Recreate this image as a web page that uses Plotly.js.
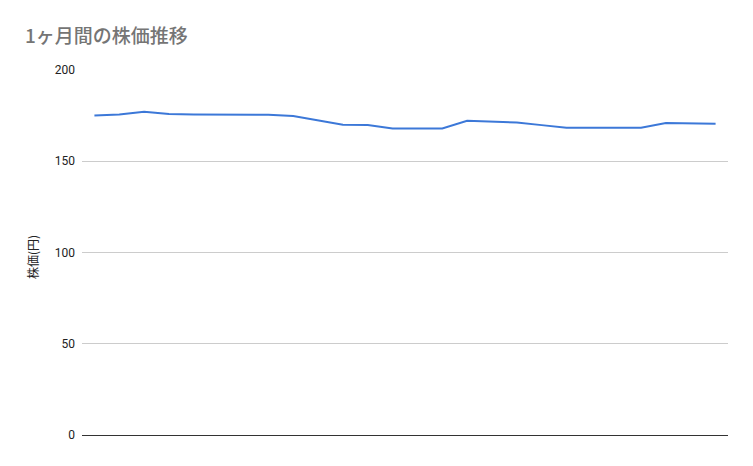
<!DOCTYPE html>
<html>
<head>
<meta charset="utf-8">
<script src="https://cdn.plot.ly/plotly-3.0.1.min.js"></script>
<style>html,body{margin:0;padding:0;background:#fff;}#chart{width:753px;height:466px;}</style>
</head>
<body>
<div id="chart"></div>
<script>
const days = [1,2,3,4,5,6,7,8,9,10,11,12,13,14,15,16,17,18,19,20,21,22,23,24,25,26];
const prices = [175.1,175.6,177.1,175.9,175.6,175.5,175.5,175.5,174.8,172.5,170.0,169.9,168.0,168.0,168.0,172.2,171.7,171.2,169.8,168.4,168.4,168.4,168.4,171.0,170.7,170.6];
const yTicks = [0,50,100,150,200];
const chartTitle = "1ヶ月間の株価推移";
const yTitle = "株価(円)";

const font = "Roboto, 'Noto Sans CJK JP', sans-serif";
Plotly.newPlot('chart', [{
  x: days, y: prices, type: 'scatter', mode: 'lines',
  line: {color: '#3c78d8', width: 2},
  hoverinfo: 'skip'
}], {
  width: 753, height: 466,
  paper_bgcolor: '#fff', plot_bgcolor: '#fff',
  margin: {l: 82, r: 25, t: 70, b: 31},
  showlegend: false,
  title: {text: chartTitle, x: 25/753, xanchor: 'left', xref: 'container', y: 1 - 36/466, yanchor: 'middle', yref: 'container',
          font: {family: "'Noto Sans CJK JP', Roboto, sans-serif", size: 19, color: '#757575', weight: 500}},
  xaxis: {range: [0.5, 26.5], showticklabels: false, ticks: '', showgrid: false, zeroline: false, showline: false, fixedrange: true},
  yaxis: {range: [0, 200], tickvals: yTicks, ticktext: yTicks.map(String), showgrid: true, gridcolor: '#cccccc', gridwidth: 1,
          zeroline: true, zerolinecolor: '#333333', zerolinewidth: 1, showline: false, ticks: '', ticklabelstandoff: 6,
          tickfont: {family: font, size: 12, color: '#222222'}},
  annotations: [{
    text: yTitle, textangle: -90, showarrow: false,
    xref: 'paper', yref: 'paper', x: (32 - 82) / 646, y: (435 - 257) / 365,
    xanchor: 'center', yanchor: 'middle',
    font: {family: "'Noto Sans CJK JP', Roboto, sans-serif", size: 12, color: '#222222'}
  }]
}, {displayModeBar: false, staticPlot: true});
</script>
</body>
</html>
